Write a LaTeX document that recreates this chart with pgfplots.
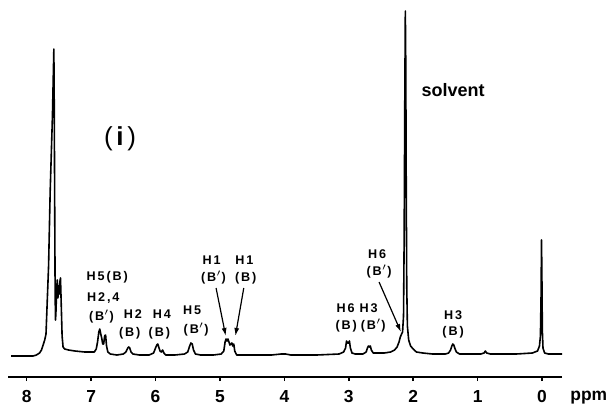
\documentclass[border=0pt]{standalone}
\usepackage{fontspec}
\setmainfont{Liberation Sans}
\newfontfamily\lblfont{Liberation Sans}[LetterSpace=15]
\usepackage{pgfplots}
\pgfplotsset{compat=1.18}
\usetikzlibrary{arrows.meta}
\tikzset{lbl/.style={font=\lblfont\bfseries\fontsize{6.3}{7}\selectfont, inner sep=0pt}}

\begin{document}
\begin{tikzpicture}
\begin{axis}[
  scale only axis, width=277pt, height=184.5pt,
  x dir=reverse, xmin=-0.31, xmax=8.29, ymin=-21, ymax=348,
  axis x line*=bottom, axis y line=none,
  axis line style={-, line width=0.9pt},
  xtick={0,1,2,3,4,5,6,7,8},
  tick align=outside, major tick length=2pt,
  tick style={line width=0.8pt, black},
  xticklabel style={font=\fontsize{8.7}{10}\selectfont\bfseries, anchor=north, yshift=-1pt},
  /pgf/number format/assume math mode=true,
  clip=false,
]
\addplot[black, line width=0.8pt, line join=round] coordinates {
(8.24,0) (7.90,0) (7.85,1) (7.80,3) (7.77,6) (7.74,12) (7.72,16) (7.70,22)
(7.66,90) (7.635,165) (7.60,240) (7.578,307) (7.572,250) (7.565,150) (7.558,60) (7.552,36)
(7.545,45) (7.535,66) (7.525,76) (7.515,58) (7.505,70) (7.495,62) (7.485,74) (7.475,78)
(7.465,55) (7.45,20) (7.435,9) (7.41,7) (7.35,6) (7.25,5) (7.10,4) (6.95,4)
(6.92,7) (6.90,14) (6.88,24) (6.865,27) (6.85,22) (6.835,18) (6.82,12) (6.805,12)
(6.79,20) (6.775,21) (6.76,10) (6.74,4) (6.70,2) (6.60,1) (6.50,2) (6.46,4)
(6.43,8) (6.415,9) (6.40,8) (6.38,4) (6.35,2) (6.25,1) (6.10,1) (6.03,3)
(6.00,8) (5.98,11) (5.965,12) (5.95,9) (5.93,5) (5.91,4) (5.89,6) (5.87,3)
(5.84,1) (5.70,1) (5.55,2) (5.50,4) (5.47,10) (5.45,13) (5.43,12) (5.41,6)
(5.38,2) (5.30,1) (5.10,1) (4.98,2) (4.94,5) (4.92,14) (4.905,17) (4.89,15)
(4.875,17) (4.86,14) (4.845,11) (4.83,12) (4.815,13) (4.80,10) (4.785,12) (4.77,5)
(4.74,1) (4.50,1) (4.20,1) (4.05,2) (3.98,2) (3.90,1) (3.50,1) (3.15,2)
(3.08,4) (3.05,8) (3.035,15) (3.02,13) (3.005,13) (2.99,15) (2.975,8) (2.95,3)
(2.90,2) (2.78,2) (2.73,4) (2.71,8) (2.695,10) (2.68,9) (2.665,10) (2.65,6)
(2.62,3) (2.55,3) (2.45,3) (2.35,4) (2.29,6) (2.25,9) (2.22,14) (2.20,19)
(2.18,22) (2.165,24) (2.15,40) (2.14,120) (2.13,260) (2.122,345) (2.115,290) (2.108,170)
(2.10,70) (2.09,30) (2.07,16) (2.04,10) (2.00,7) (1.95,4) (1.85,3) (1.70,2) (1.50,2)
(1.45,3) (1.42,6) (1.40,10) (1.385,12) (1.37,11) (1.355,8) (1.33,4) (1.28,2)
(1.10,2) (0.95,2) (0.90,3) (0.88,5) (0.86,3) (0.80,2) (0.40,2) (0.15,3)
(0.07,5) (0.04,10) (0.025,20) (0.015,60) (0.008,116) (0.002,80) (-0.005,25) (-0.015,8)
(-0.04,3) (-0.10,2) (-0.31,2)
};
% annotations
\node[lbl] at (axis cs:6.75,79) {H5(B)};
\node[lbl] at (axis cs:6.81,58) {H2,4};
\node[lbl] at (axis cs:6.84,39) {(B$'$)};
\node[lbl] at (axis cs:6.35,42) {H2};
\node[lbl] at (axis cs:6.40,23) {(B)};
\node[lbl] at (axis cs:5.90,42) {H4};
\node[lbl] at (axis cs:5.94,23) {(B)};
\node[lbl] at (axis cs:5.43,46) {H5};
\node[lbl] at (axis cs:5.37,26) {(B$'$)};
\node[lbl] at (axis cs:5.13,96) {H1};
\node[lbl] at (axis cs:5.10,78) {(B$'$)};
\node[lbl] at (axis cs:4.62,96) {H1};
\node[lbl] at (axis cs:4.60,78) {(B)};
\draw[-{Latex[length=4pt,width=2.5pt]}, line width=0.6pt] (axis cs:5.06,68) -- (axis cs:4.91,20);
\draw[-{Latex[length=4pt,width=2.5pt]}, line width=0.6pt] (axis cs:4.63,68) -- (axis cs:4.76,20);
\node[lbl] at (axis cs:3.05,48) {H6};
\node[lbl] at (axis cs:3.04,30) {(B)};
\node[lbl] at (axis cs:2.69,48) {H3};
\node[lbl] at (axis cs:2.62,30) {(B$'$)};
\node[lbl] at (axis cs:2.56,102) {H6};
\node[lbl] at (axis cs:2.53,84) {(B$'$)};
\draw[-{Latex[length=4pt,width=2.5pt]}, line width=0.6pt] (axis cs:2.53,74) -- (axis cs:2.19,24);
\node[lbl] at (axis cs:1.38,41) {H3};
\node[lbl] at (axis cs:1.38,24) {(B)};
\node[font=\bfseries\fontsize{9}{10}\selectfont, inner sep=0pt] at (axis cs:1.38,266) {solvent};
\node[font=\fontsize{13}{14}\selectfont, inner sep=0pt] at (axis cs:6.55,217) {(\hspace{1.8pt}\textbf{i}\hspace{1.8pt})};
\node[font=\bfseries\fontsize{8.7}{10}\selectfont, anchor=base west, inner sep=0pt] at ([xshift=4pt,yshift=-11.5pt]axis cs:-0.31,-21) {ppm};
\coordinate (bl) at (axis cs:8.29,-21);
\coordinate (tr) at (axis cs:-0.31,348);
\end{axis}
\pgfresetboundingbox
\path[use as bounding box] ([shift={(-4pt,-14pt)}]bl) rectangle ([shift={(23.5pt,4pt)}]tr);
\end{tikzpicture}
\end{document}
